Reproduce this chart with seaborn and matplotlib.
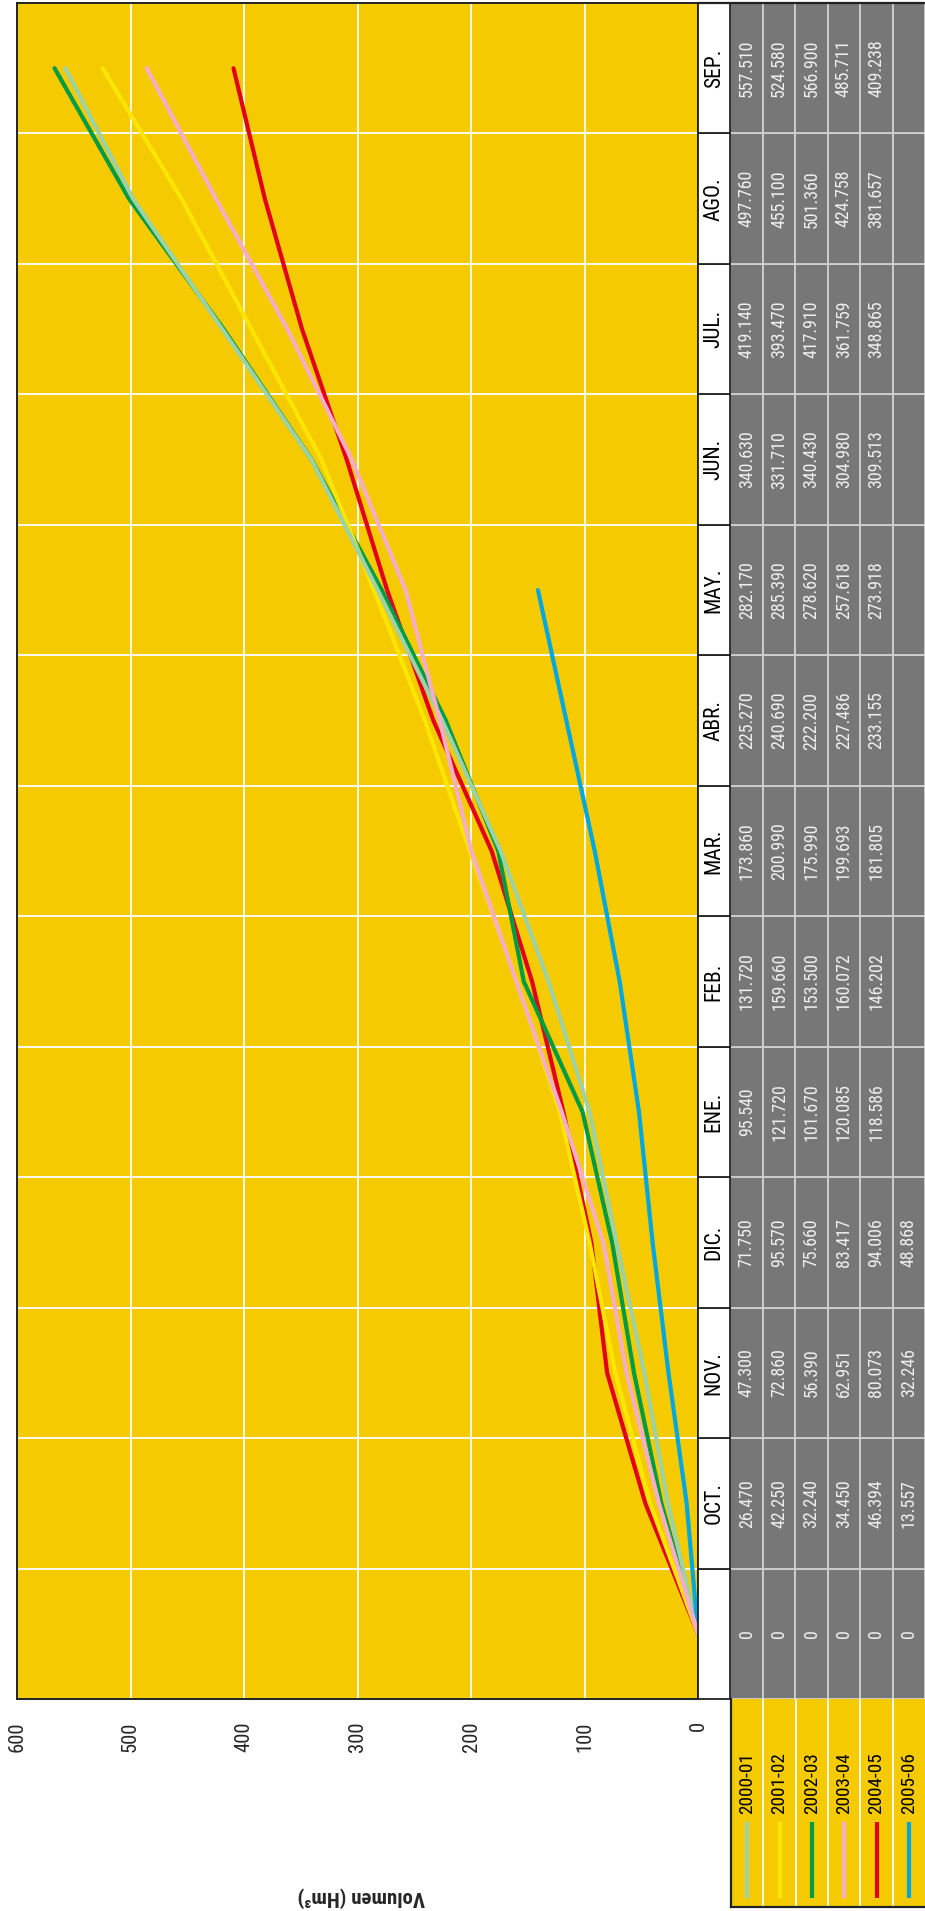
import os
import glob
import numpy as np
import pandas as pd
import matplotlib
matplotlib.use("Agg")
import matplotlib.pyplot as plt
import matplotlib.font_manager as fm
from matplotlib.textpath import TextPath
from matplotlib.patches import Rectangle
import seaborn as sns

# -----------------------------
# Datos (Hm3 acumulados por mes)
# -----------------------------
meses = ["", "OCT.", "NOV.", "DIC.", "ENE.", "FEB.", "MAR.", "ABR.",
         "MAY.", "JUN.", "JUL.", "AGO.", "SEP."]
campanas = ["2000-01", "2001-02", "2002-03", "2003-04", "2004-05", "2005-06"]

vol_2000_01 = [0, 26.470, 47.300, 71.750, 95.540, 131.720, 173.860, 225.270,
               282.170, 340.630, 419.140, 497.760, 557.510]
vol_2001_02 = [0, 42.250, 72.860, 95.570, 121.720, 159.660, 200.990, 240.690,
               285.390, 331.710, 393.470, 455.100, 524.580]
vol_2002_03 = [0, 32.240, 56.390, 75.660, 101.670, 153.500, 175.990, 222.200,
               278.620, 340.430, 417.910, 501.360, 566.900]
vol_2003_04 = [0, 34.450, 62.951, 83.417, 120.085, 160.072, 199.693, 227.486,
               257.618, 304.980, 361.759, 424.758, 485.711]
vol_2004_05 = [0, 46.394, 80.073, 94.006, 118.586, 146.202, 181.805, 233.155,
               273.918, 309.513, 348.865, 381.657, 409.238]
# tabla 2005-06 (solo hasta DIC.)
vol_2005_06 = [0, 13.557, 32.246, 48.868]
# curva 2005-06 tal como aparece dibujada (hasta MAY.)
curva_2005_06 = [0, 10, 26, 40, 52, 69, 91, 116, 141]

tabla = {
    "2000-01": vol_2000_01,
    "2001-02": vol_2001_02,
    "2002-03": vol_2002_03,
    "2003-04": vol_2003_04,
    "2004-05": vol_2004_05,
    "2005-06": vol_2005_06,
}
curvas = dict(tabla)
curvas["2005-06"] = curva_2005_06

colores = {
    "2000-01": "#9DD2A6",
    "2001-02": "#FAE600",
    "2002-03": "#009B45",
    "2003-04": "#F5AEC8",
    "2004-05": "#E2001A",
    "2005-06": "#00A8E1",
}
orden_dibujo = ["2004-05", "2002-03", "2001-02", "2000-01", "2005-06", "2003-04"]

AMARILLO = "#F5CB00"
GRIS = "#777777"

rows = []
for c, vals in curvas.items():
    for i, v in enumerate(vals):
        rows.append({"campana": c, "mes": i, "volumen": v})
df = pd.DataFrame(rows)

sns.set_style("white")
plt.rcParams["font.family"] = ["DejaVu Sans"]


# -----------------------------
# Fuente estrecha (si existe)
# -----------------------------
def buscar_fuente(claves):
    archivos = [f.fname for f in fm.fontManager.ttflist]
    for d in ["/usr/share/fonts", "/usr/local/share/fonts", os.path.expanduser("~/.fonts")]:
        archivos += glob.glob(os.path.join(d, "**", "*.[ot]tf"), recursive=True)
    for clave in claves:
        for a in archivos:
            if os.path.basename(a).lower() == clave.lower():
                return a
    return None


f_reg = buscar_fuente(["LiberationSansNarrow-Regular.ttf", "RobotoCondensed-Regular.ttf",
                       "OpenSans_Condensed-Regular.ttf", "OpenSansCondensed-Regular.ttf",
                       "DejaVuSansCondensed.ttf", "Roboto-Regular.ttf"])
f_bold = buscar_fuente(["LiberationSansNarrow-Bold.ttf", "RobotoCondensed-Bold.ttf",
                        "OpenSans_Condensed-Bold.ttf", "OpenSansCondensed-Bold.ttf",
                        "DejaVuSansCondensed-Bold.ttf", "Roboto-Bold.ttf"])
fp_reg = fm.FontProperties(fname=f_reg) if f_reg else fm.FontProperties(family="DejaVu Sans")
fp_bold = fm.FontProperties(fname=f_bold) if f_bold else fm.FontProperties(family="DejaVu Sans", weight="bold")


def prop(base, muestra, ancho_px, tope):
    # tamano para que 'muestra' ocupe ancho_px como en la referencia
    w = TextPath((0, 0), muestra, size=10, prop=base).get_extents().width
    size = 10 * (ancho_px * 72 / 100) / w
    p = base.copy()
    p.set_size(min(size, tope))
    return p


fp_tick = prop(fp_reg, "600", 28, 15)
fp_val = prop(fp_reg, "26.470", 47, 14.5)
fp_mes = prop(fp_reg, "OCT.", 40, 15.5)
fp_leg = prop(fp_reg, "2000-01", 57, 15.5)
fp_lab = prop(fp_bold, "Volumen (Hm³)", 127, 15)

W, H = 925, 1911
fig = plt.figure(figsize=(W / 100, H / 100), dpi=100)
fig.patch.set_facecolor("white")

x0, x1 = 17, 698      # area del grafico (px)
y_top, y_bot = 3, 1699
ax = fig.add_axes([x0 / W, (H - y_bot) / H, (x1 - x0) / W, (y_bot - y_top) / H])
ax.set_facecolor(AMARILLO)

sns.lineplot(data=df, x="volumen", y="mes", hue="campana", hue_order=orden_dibujo,
             palette=colores, orient="y", linewidth=3, legend=False, ax=ax, zorder=3)

ax.set_xlim(600, 0)
ax.set_ylim(-0.5, 12.5)
ax.set_xticks(range(0, 601, 100))
ax.set_xticklabels([str(v) for v in range(0, 601, 100)], rotation=90)
for lbl in ax.get_xticklabels():
    lbl.set_fontproperties(fp_tick)
ax.set_yticks(np.arange(-0.5, 13, 1))
ax.set_yticklabels([])
ax.tick_params(axis="x", direction="out", length=10, width=1.2, color="#222222", pad=6)
ax.tick_params(axis="y", length=0)
ax.grid(True, color="white", linewidth=1.3)
ax.set_axisbelow(True)
for s in ax.spines.values():
    s.set_color("#222222")
    s.set_linewidth(1.4)
ax.set_xlabel("")
ax.set_ylabel("")

fig.text(361 / W, 1 - 1897 / H, "Volumen (Hm³)", rotation=180, ha="center",
         va="center", fontproperties=fp_lab)

# -----------------------------
# Tabla de valores
# -----------------------------
axt = fig.add_axes([x1 / W, (H - y_bot) / H, (W - x1) / W, (y_bot - y_top) / H])
axt.set_xlim(0, 7)
axt.set_ylim(-0.5, 12.5)
axt.axis("off")

for k, mes in enumerate(meses):
    for j, c in enumerate(campanas):
        axt.add_patch(Rectangle((1 + j, k - 0.5), 1, 1, facecolor=GRIS,
                                edgecolor="#D0D0D0", linewidth=1.3, clip_on=False))
        vals = tabla[c]
        if k < len(vals):
            v = vals[k]
            txt = "0" if v == 0 else f"{v:.3f}"
            axt.text(1.5 + j, k, txt, rotation=90, ha="center", va="center",
                     color="#F0F0F0", fontproperties=fp_val)
for k, mes in enumerate(meses):
    axt.add_patch(Rectangle((0, k - 0.5), 1, 1, facecolor="white",
                            edgecolor="#222222", linewidth=1.3, clip_on=False))
    axt.text(0.5, k, mes, rotation=90, ha="center", va="center",
             color="black", fontproperties=fp_mes)
axt.plot([0, 7], [12.5, 12.5], color="#222222", lw=1.6, clip_on=False)

# -----------------------------
# Leyenda
# -----------------------------
leg_l, leg_top, leg_bot = 731, 1699, 1907
axl = fig.add_axes([leg_l / W, (H - leg_bot) / H, (W - leg_l) / W, (leg_bot - leg_top) / H])
axl.set_facecolor(AMARILLO)
axl.set_xlim(0, 6)
axl.set_ylim(0, 1)
axl.set_xticks([])
axl.set_yticks([])
for side in ["top", "right"]:
    axl.spines[side].set_visible(False)
for side in ["left", "bottom"]:
    axl.spines[side].set_color("#222222")
    axl.spines[side].set_linewidth(1.6)
for j, c in enumerate(campanas):
    if j > 0:
        axl.axvline(j, color="white", lw=1.3)
    axl.text(j + 0.5, 0.594, c, rotation=90, ha="center", va="center",
             color="black", fontproperties=fp_leg)
    axl.plot([j + 0.5, j + 0.5], [0.045, 0.41], color=colores[c], lw=3,
             solid_capstyle="butt")

fig.savefig("out.png", dpi=100)
